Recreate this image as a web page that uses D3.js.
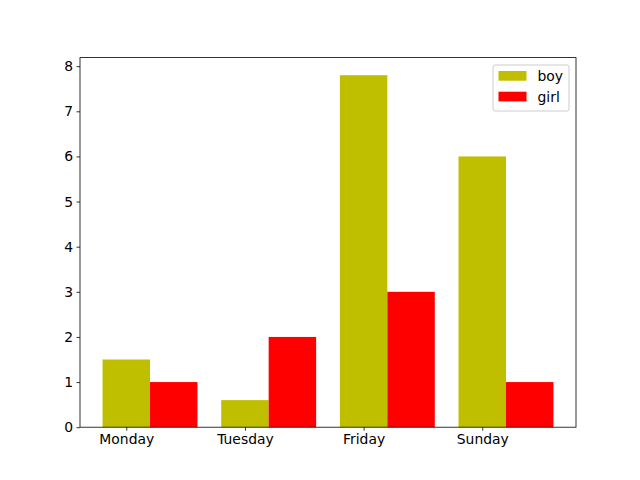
<!DOCTYPE html>
<html>
<head>
<meta charset="utf-8">
<script src="https://cdn.jsdelivr.net/npm/d3@7"></script>
<style>
  body { margin: 0; background: #fff; }
  text { font-family: "DejaVu Sans", sans-serif; }
</style>
</head>
<body>
<svg id="chart" width="640" height="480"></svg>
<script>
// data
var days = ["Monday", "Tuesday", "Friday", "Sunday"];
var boy = [1.5, 0.6, 7.8, 6];
var girl = [1, 2, 3, 1];
var seriesNames = ["boy", "girl"];
var seriesColors = ["#bfbf00", "#ff0000"];
var yTicks = [0, 1, 2, 3, 4, 5, 6, 7, 8];

var barW = 0.4;
var svg = d3.select("#chart");
// plot area (window.top is read-only, so no plain "top")
var plotLeft = 80, plotRight = 576, plotTop = 57.6, plotBottom = 427.2;

// x is numeric like matplotlib: boy at i, girl at i+0.4, 5% margins
var xMin = -barW / 2, xMax = days.length - 1 + barW + barW / 2;
var xPad = (xMax - xMin) * 0.05;
var x = d3.scaleLinear().domain([xMin - xPad, xMax + xPad]).range([plotLeft, plotRight]);
var yMax = d3.max(boy.concat(girl)) * 1.05;
var y = d3.scaleLinear().domain([0, yMax]).range([plotBottom, plotTop]);

var series = [boy, girl];
series.forEach(function(vals, s) {
  svg.append("g").selectAll("rect")
    .data(vals)
    .enter().append("rect")
    .attr("x", function(d, i) { return x(i + s * barW - barW / 2); })
    .attr("width", function(d, i) { return x(i + s * barW + barW / 2) - x(i + s * barW - barW / 2); })
    .attr("y", function(d) { return y(d); })
    .attr("height", function(d) { return y(0) - y(d); })
    .attr("fill", seriesColors[s]);
});

// axes
var xAxis = svg.append("g")
  .attr("transform", "translate(0," + plotBottom + ")")
  .call(d3.axisBottom(x).tickValues(d3.range(days.length)).tickFormat(function(d) { return days[d]; })
    .tickSize(3.5).tickPadding(3.5));
var yAxis = svg.append("g")
  .attr("transform", "translate(" + plotLeft + ",0)")
  .call(d3.axisLeft(y).tickValues(yTicks).tickFormat(d3.format("d")).tickSize(3.5).tickPadding(3.5));
[xAxis, yAxis].forEach(function(g) {
  g.select(".domain").remove();
  g.selectAll(".tick line").attr("stroke", "#000").attr("stroke-width", 0.8);
  g.selectAll(".tick text").attr("fill", "#000").style("font-size", "13.9px").style("font-family", "DejaVu Sans");
});

// frame
svg.append("rect")
  .attr("x", plotLeft).attr("y", plotTop)
  .attr("width", plotRight - plotLeft).attr("height", plotBottom - plotTop)
  .attr("fill", "none").attr("stroke", "#000").attr("stroke-width", 0.8);

// legend
var lg = svg.append("g").attr("transform", "translate(493,65)");
lg.append("rect")
  .attr("width", 76).attr("height", 46)
  .attr("rx", 2).attr("ry", 2)
  .attr("fill", "#fff").attr("fill-opacity", 0.8)
  .attr("stroke", "#cccccc").attr("stroke-width", 1);
seriesNames.forEach(function(name, i) {
  lg.append("rect")
    .attr("x", 5.5).attr("y", 6 + i * 20.7)
    .attr("width", 28).attr("height", 9.7)
    .attr("fill", seriesColors[i]);
  lg.append("text")
    .attr("x", 44.5).attr("y", 11 + i * 20.7)
    .attr("dy", "0.35em")
    .style("font-size", "13.9px")
    .text(name);
});
</script>
</body>
</html>
